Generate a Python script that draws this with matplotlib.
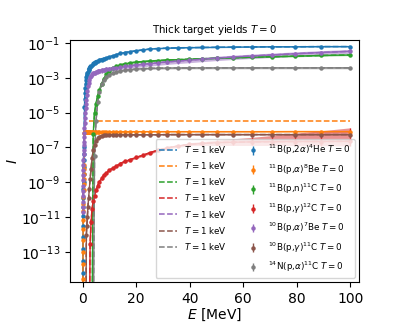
import numpy as np
import matplotlib
matplotlib.use("Agg")
import matplotlib.pyplot as plt
from matplotlib.ticker import FixedLocator, NullLocator

# Proton energy grid [MeV]
E = [0.1, 0.112, 0.126, 0.141, 0.158, 0.178, 0.2, 0.224, 0.251, 0.282,
     0.316, 0.355, 0.398, 0.447, 0.501, 0.562, 0.631, 0.708, 0.794, 0.891,
     1.0, 1.12, 1.26, 1.41, 1.58, 1.78, 2.0, 2.24, 2.51, 2.82,
     3.16, 3.55, 3.98, 4.47, 5.01, 5.62, 6.31, 7.08, 7.94, 8.91,
     10.0, 11.2, 12.6, 14.1, 15.8, 17.8, 20.0, 22.4, 25.1, 28.2,
     31.6, 35.5, 39.8, 44.7, 50.1, 56.2, 63.1, 70.8, 79.4, 89.1, 100.0]

# 11B(p,2a)4He
y_b11_2a = [1e-16, 1e-15, 6e-15, 3e-14, 1.5e-13, 7e-13, 3e-12, 1.2e-11, 4e-11, 1.3e-10,
            4e-10, 1.1e-9, 3e-9, 7.5e-9, 1.8e-8, 4e-8, 1e-7, 2e-5, 6e-5, 1.3e-4,
            2.5e-4, 4.5e-4, 7.9e-4, 1.12e-3, 1.51e-3, 1.91e-3, 2.24e-3, 2.82e-3, 3.39e-3, 3.98e-3,
            4.57e-3, 5.25e-3, 6.03e-3, 6.76e-3, 7.59e-3, 8.71e-3, 1.0e-2, 1.12e-2, 1.26e-2, 1.41e-2,
            1.58e-2, 1.82e-2, 2.14e-2, 2.51e-2, 2.82e-2, 3.16e-2, 3.55e-2, 3.98e-2, 4.47e-2, 4.79e-2,
            5.01e-2, 5.25e-2, 5.37e-2, 5.5e-2, 5.62e-2, 5.75e-2, 5.89e-2, 6.03e-2, 6.03e-2, 6.17e-2, 6.17e-2]
d_b11_2a = [1e-16, 1e-15, 6e-15, 3e-14, 1.5e-13, 7e-13, 3e-12, 1.2e-11, 4e-11, 1.3e-10,
            4e-10, 1.1e-9, 3e-9, 7.5e-9, 1.8e-8, 4e-8, 1e-7, 2e-5, 6e-5, 1.3e-4,
            2.5e-4, 4.5e-4, 1.26e-3, 1.78e-3, 2.29e-3, 2.82e-3, 3.31e-3, 3.98e-3, 4.68e-3, 5.37e-3,
            6.17e-3, 6.92e-3, 7.76e-3, 8.71e-3, 9.55e-3, 1.05e-2, 1.15e-2, 1.23e-2, 1.35e-2, 1.45e-2,
            1.58e-2, 1.82e-2, 2.14e-2, 2.51e-2, 2.82e-2, 3.16e-2, 3.55e-2, 3.98e-2, 4.47e-2, 4.79e-2,
            5.01e-2, 5.25e-2, 5.37e-2, 5.5e-2, 5.62e-2, 5.75e-2, 5.89e-2, 6.03e-2, 6.03e-2, 6.17e-2, 6.17e-2]

# 11B(p,a)8Be
y_b11_a = [3e-17, 4e-16, 3e-15, 2e-14, 1e-13, 5e-13, 2e-12, 7e-12, 2.2e-11, 6e-11,
           1.5e-10, 3.5e-10, 8e-10, 1.6e-9, 3e-9, 5.5e-9, 1e-8, 7.2e-7, 7.5e-7, 7.6e-7,
           7.7e-7, 7.7e-7, 7.8e-7, 7.8e-7, 7.8e-7, 7.8e-7, 7.9e-7, 7.9e-7, 7.9e-7, 7.9e-7,
           7.9e-7, 7.9e-7, 8.0e-7, 8.0e-7, 8.0e-7, 8.0e-7, 8.0e-7, 8.0e-7, 8.0e-7, 8.0e-7,
           8.0e-7, 8.0e-7, 8.1e-7, 8.1e-7, 8.1e-7, 8.1e-7, 8.1e-7, 8.1e-7, 8.1e-7, 8.1e-7,
           8.1e-7, 8.1e-7, 8.1e-7, 8.1e-7, 8.1e-7, 8.1e-7, 8.1e-7, 8.1e-7, 8.2e-7, 8.2e-7, 8.2e-7]
d_b11_a = [np.nan] * 27 + [3.5e-6] * 34

# 11B(p,n)11C
y_b11_n = [1e-18] * 32 + [
    6.3e-7, 1.0e-5, 3.2e-5, 8.9e-5, 2.0e-4, 4.5e-4, 8.9e-4, 1.58e-3,
    2.51e-3, 3.55e-3, 4.57e-3, 5.5e-3, 6.31e-3, 7.24e-3, 7.94e-3, 8.51e-3, 9.12e-3, 9.77e-3,
    1.05e-2, 1.1e-2, 1.17e-2, 1.23e-2, 1.32e-2, 1.41e-2, 1.51e-2, 1.62e-2, 1.74e-2, 1.91e-2, 2.04e-2]

# 11B(p,g)12C
y_b11_g = [1e-18] * 29 + [
    3e-13, 5e-12, 3e-11, 8e-11, 1.6e-10, 3.5e-10, 6.5e-10, 1.1e-9, 1.7e-9, 2.6e-9, 3.5e-9,
    5e-9, 6.5e-9, 8.5e-9, 1.2e-8, 1.6e-8, 2e-8, 2.7e-8, 3.5e-8, 5e-8, 7e-8,
    9.5e-8, 1.2e-7, 1.5e-7, 1.7e-7, 1.9e-7, 2.0e-7, 2.1e-7, 2.15e-7, 2.2e-7, 2.2e-7, 2.25e-7]
lo_b11_g = [1e-18] * 29 + [
    2.6e-13, 4.3e-12, 2.6e-11, 6.8e-11, 1.4e-10, 3.0e-10, 5.5e-10, 9.4e-10, 1.45e-9, 2.2e-9, 3.0e-9,
    4.3e-9, 5.5e-9, 7.2e-9, 1.0e-8, 1.36e-8, 1.7e-8, 2.3e-8, 3.0e-8, 4.2e-8, 6.0e-8,
    8.1e-8, 1.02e-7, 1.26e-7, 1.3e-7, 1.3e-7, 1.3e-7, 1.3e-7, 1.3e-7, 1.28e-7, 1.26e-7, 1.22e-7]
hi_b11_g = [1e-18] * 29 + [
    3.4e-13, 5.7e-12, 3.4e-11, 9.2e-11, 1.8e-10, 4.0e-10, 7.5e-10, 1.26e-9, 1.95e-9, 3.0e-9, 4.0e-9,
    5.7e-9, 7.5e-9, 9.8e-9, 1.38e-8, 1.84e-8, 2.3e-8, 3.1e-8, 4.0e-8, 5.8e-8, 8.0e-8,
    1.09e-7, 1.4e-7, 1.86e-7, 2.19e-7, 2.63e-7, 3.16e-7, 3.8e-7, 4.9e-7, 6.6e-7, 9.1e-7, 1.35e-6]

# 10B(p,a)7Be
y_b10_a = [2.0e-11, 4.0e-11, 7.9e-11, 1.6e-10, 3.2e-10, 6.3e-10, 1.3e-9, 2.5e-9, 5.0e-9, 1.0e-8,
           2.0e-8, 4.0e-8, 7.1e-8, 1.3e-7, 2.2e-7, 4.0e-7, 7.1e-7, 1.3e-6, 2.5e-6, 5.0e-6,
           1.0e-5, 1.8e-5, 3.2e-5, 5.6e-5, 1.0e-4, 1.8e-4, 3.2e-4, 5.0e-4, 7.9e-4, 1.07e-3,
           1.32e-3, 1.58e-3, 1.82e-3, 2.0e-3, 2.19e-3, 2.34e-3, 2.51e-3, 2.69e-3, 2.88e-3, 3.09e-3,
           3.31e-3, 3.55e-3, 3.8e-3, 4.07e-3, 4.47e-3, 4.9e-3, 5.37e-3, 5.89e-3, 6.46e-3, 7.24e-3,
           8.13e-3, 9.12e-3, 1.02e-2, 1.17e-2, 1.35e-2, 1.55e-2, 1.78e-2, 2.04e-2, 2.4e-2, 2.82e-2, 3.31e-2]

# 10B(p,g)11C
y_b10_g = [1e-18] * 22 + [
    1e-16, 1e-12, 3e-12, 1e-11, 4e-11, 1.2e-10, 4e-10, 1.5e-9, 6e-9, 2.5e-8, 7e-8,
    1.4e-7, 2.4e-7, 3.4e-7, 4.2e-7, 4.8e-7, 5.1e-7, 5.3e-7,
    5.4e-7, 5.4e-7, 5.4e-7, 5.4e-7, 5.4e-7, 5.4e-7, 5.4e-7, 5.4e-7, 5.4e-7, 5.4e-7,
    5.5e-7, 5.5e-7, 5.5e-7, 5.5e-7, 5.5e-7, 5.5e-7, 5.5e-7, 5.5e-7, 5.5e-7, 5.5e-7, 5.5e-7]

# 14N(p,a)11C
y_n14_a = [1e-18] * 33 + [
    3.2e-8, 3.2e-6, 4.0e-5, 1.58e-4, 4.5e-4, 7.9e-4, 1.12e-3,
    1.48e-3, 1.82e-3, 2.14e-3, 2.45e-3, 2.69e-3, 2.95e-3, 3.16e-3, 3.31e-3, 3.47e-3, 3.55e-3,
    3.63e-3, 3.66e-3, 3.68e-3, 3.7e-3, 3.7e-3, 3.71e-3, 3.71e-3, 3.72e-3, 3.72e-3, 3.72e-3, 3.72e-3]

# relative half-widths of the uncertainty bands
rel_b11_2a = 0.06
rel_b11_a = 0.08
rel_b11_n = 0.08
rel_b10_a = 0.28
rel_b10_g = 0.08
rel_n14_a = 0.12

labels = [r'$^{11}$B(p,2$\alpha$)$^{4}$He $T=0$',
          r'$^{11}$B(p,$\alpha$)$^{8}$Be $T=0$',
          r'$^{11}$B(p,n)$^{11}$C $T=0$',
          r'$^{11}$B(p,$\gamma$)$^{12}$C $T=0$',
          r'$^{10}$B(p,$\alpha$)$^{7}$Be $T=0$',
          r'$^{10}$B(p,$\gamma$)$^{11}$C $T=0$',
          r'$^{14}$N(p,$\alpha$)$^{11}$C $T=0$']
dash_label = r'$T=1$ keV'

colors = ['#1f77b4', '#ff7f0e', '#2ca02c', '#d62728', '#9467bd', '#8c564b', '#7f7f7f']

Ea = np.array(E)
def band(y, rel):
    y = np.array(y)
    return y * (1 - rel), y * (1 + rel)

series = [
    (y_b11_2a, d_b11_2a, band(y_b11_2a, rel_b11_2a)),
    (y_b11_a, d_b11_a, band(y_b11_a, rel_b11_a)),
    (y_b11_n, y_b11_n, band(y_b11_n, rel_b11_n)),
    (y_b11_g, y_b11_g, (np.array(lo_b11_g), np.array(hi_b11_g))),
    (y_b10_a, y_b10_a, band(y_b10_a, rel_b10_a)),
    (y_b10_g, y_b10_g, band(y_b10_g, rel_b10_g)),
    (y_n14_a, y_n14_a, band(y_n14_a, rel_n14_a)),
]

fig = plt.figure(figsize=(3.99, 3.29), dpi=100)
ax = fig.add_axes([0.1754, 0.1429, 0.7243, 0.7356])

for (y, d, (lo, hi)), c in zip(series, colors):
    ax.plot(Ea, np.array(d), '--', color=c, lw=1.1, label=dash_label)

for (y, d, (lo, hi)), c, lab in zip(series, colors, labels):
    yv = np.array(y)
    ax.fill_between(Ea, lo, hi, color=c, alpha=0.5, lw=0)
    ax.plot(Ea, yv, '-', color=c, lw=1.0)
    ax.errorbar(Ea, yv, yerr=[yv - lo, hi - yv], fmt='o', color=c, ms=2.2,
                elinewidth=1.0, label=lab)

ax.set_yscale('log')
ax.set_ylim(10 ** -14.72, 10 ** -0.83)
ax.set_xlim(-4.7, 103.2)
ax.yaxis.set_major_locator(FixedLocator([1e-13, 1e-11, 1e-9, 1e-7, 1e-5, 1e-3, 1e-1]))
ax.yaxis.set_minor_locator(NullLocator())
ax.set_xticks([0, 20, 40, 60, 80, 100])
ax.tick_params(labelsize=10)
ax.set_xlabel(r'$E$ [MeV]', fontsize=10, labelpad=1)
ax.set_ylabel(r'$I$', fontsize=10, labelpad=0.5)
ax.set_title(r'Thick target yields $T=0$', fontsize=7.4, pad=5)
ax.legend(ncol=2, loc='lower right', fontsize=6.3, labelspacing=0.58)

fig.savefig('out.png', dpi=100)
